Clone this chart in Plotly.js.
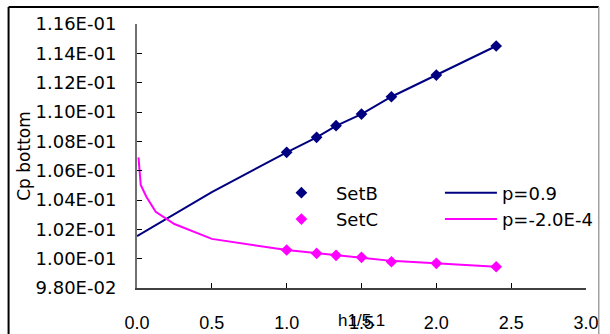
<!DOCTYPE html>
<html>
<head>
<meta charset="utf-8">
<script src="https://cdn.plot.ly/plotly-3.0.1.min.js"></script>
<style>
  html, body { margin: 0; padding: 0; background: #ffffff; }
  #chart { width: 610px; height: 334px; }
</style>
</head>
<body>
<div id="chart"></div>
<script>
// Measured points
const setX = [1.0, 1.2, 1.33, 1.5, 1.7, 2.0, 2.4];
const setB = [0.10725, 0.10827, 0.10907, 0.10986, 0.11104, 0.11252, 0.11450];
const setC = [0.10059, 0.10036, 0.10023, 0.10009, 0.09979, 0.09968, 0.09945];

// Fitted curves
const fitBX = [0, 0.25, 0.5, 1.0, 1.2, 1.33, 1.5, 1.7, 2.0, 2.4];
const fitB  = [0.10154, 0.10306, 0.10454, 0.10725, 0.10827, 0.10905, 0.10986, 0.11104, 0.11252, 0.11450];
const fitCX = [0.01, 0.025, 0.0625, 0.125, 0.25, 0.5, 1.0, 1.2, 1.33, 1.5, 1.7, 2.0, 2.4];
const fitC  = [0.10691, 0.10502, 0.10422, 0.10320, 0.10236, 0.10135, 0.10059, 0.10036, 0.10023, 0.10006, 0.09985, 0.09966, 0.09945];

// Series names
const seriesNames = ['SetB', 'SetC', 'p=0.9', 'p=-2.0E-4'];

// Axis ticks
const yTickVals = [0.098, 0.100, 0.102, 0.104, 0.106, 0.108, 0.110, 0.112, 0.114, 0.116];
const yTickText = ['9.80E-02', '1.00E-01', '1.02E-01', '1.04E-01', '1.06E-01', '1.08E-01', '1.10E-01', '1.12E-01', '1.14E-01', '1.16E-01'];
const xTickVals = [0, 0.5, 1.0, 1.5, 2.0, 2.5, 3.0];
const xTickText = ['0.0', '0.5', '1.0', '1.5', '2.0', '2.5', '3.0'];

const NAVY = '#000080';
const MAGENTA = '#FF00FF';

const traces = [
  { x: fitBX, y: fitB, name: seriesNames[2], type: 'scatter', mode: 'lines',
    line: { color: NAVY, width: 2 }, legend: 'legend2' },
  { x: fitCX, y: fitC, name: seriesNames[3], type: 'scatter', mode: 'lines',
    line: { color: MAGENTA, width: 2 }, legend: 'legend2' },
  { x: setX, y: setB, name: seriesNames[0], type: 'scatter', mode: 'markers',
    marker: { symbol: 'diamond', size: 9, color: NAVY }, legend: 'legend' },
  { x: setX, y: setC, name: seriesNames[1], type: 'scatter', mode: 'markers',
    marker: { symbol: 'diamond', size: 9, color: MAGENTA }, legend: 'legend' }
];

const L = 137, R = 595, T = 24, B = 288;
const px2x = p => (p - L) / (R - L);
const px2y = p => (B - p) / (B - T);

const legendFont = { family: 'DejaVu Sans, sans-serif', size: 18, color: '#000000' };

const layout = {
  width: 610, height: 334, autosize: false,
  margin: { l: L, r: 610 - R, t: T, b: 334 - B, pad: 0 },
  paper_bgcolor: '#ffffff', plot_bgcolor: '#ffffff',
  showlegend: true,
  xaxis: {
    range: [0, 3], tickvals: xTickVals, ticktext: xTickText,
    ticks: 'inside', ticklen: 5, tickwidth: 1, tickcolor: '#000000',
    showline: true, linecolor: '#404040', linewidth: 1.5,
    showgrid: false, zeroline: false, ticklabelstandoff: 18,
    tickfont: { family: 'Liberation Sans, Arial, sans-serif', size: 18, color: '#000000' }
  },
  yaxis: {
    range: [0.098, 0.116], tickvals: yTickVals, ticktext: yTickText,
    ticks: 'inside', ticklen: 5, tickwidth: 1, tickcolor: '#000000',
    showline: true, linecolor: '#707070', linewidth: 2,
    showgrid: false, zeroline: false, ticklabelstandoff: 15,
    tickfont: { family: 'DejaVu Sans, sans-serif', size: 18, color: '#000000' },
    title: { text: 'Cp bottom', font: { family: 'DejaVu Sans, sans-serif', size: 17, color: '#000000' } }
  },
  legend: {
    x: px2x(269.5), y: px2y(174.5), xanchor: 'left', yanchor: 'top',
    bgcolor: 'rgba(0,0,0,0)', borderwidth: 0, itemwidth: 59,
    font: legendFont, orientation: 'v'
  },
  legend2: {
    x: px2x(446), y: px2y(174.5), xanchor: 'left', yanchor: 'top',
    bgcolor: 'rgba(0,0,0,0)', borderwidth: 0, itemwidth: 52,
    font: legendFont, orientation: 'v'
  },
  annotations: [
    { text: 'h1/5.1', xref: 'x', yref: 'paper', x: 1.5, y: px2y(320),
      xanchor: 'center', yanchor: 'middle', showarrow: false,
      font: { family: 'Liberation Sans, Arial, sans-serif', size: 17, color: '#000000' } }
  ],
  shapes: [
    // outer chart frame
    { type: 'line', xref: 'paper', yref: 'paper', x0: px2x(6), x1: px2x(608), y0: px2y(7), y1: px2y(7),
      line: { color: '#000000', width: 2 } },
    { type: 'line', xref: 'paper', yref: 'paper', x0: px2x(6), x1: px2x(6), y0: px2y(7), y1: px2y(345),
      line: { color: '#000000', width: 2 } },
    { type: 'line', xref: 'paper', yref: 'paper', x0: px2x(608), x1: px2x(608), y0: px2y(7), y1: px2y(345),
      line: { color: '#a0a0a0', width: 1.5 } }
  ]
};

Plotly.newPlot('chart', traces, layout, { displayModeBar: false, staticPlot: true });
</script>
</body>
</html>
